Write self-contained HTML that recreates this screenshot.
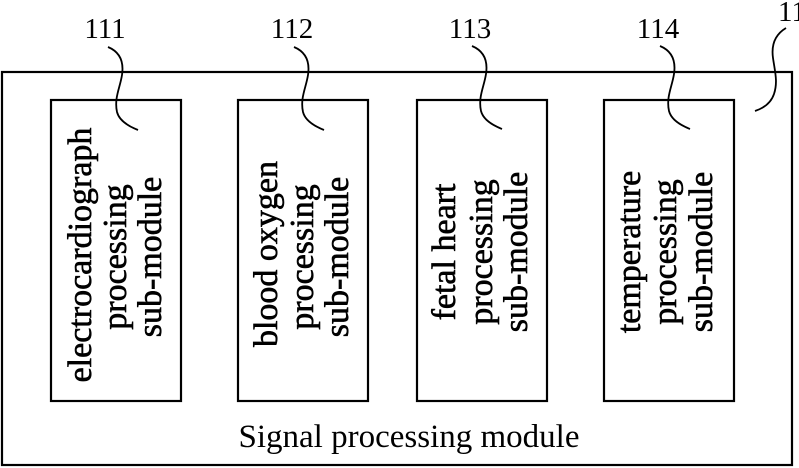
<!DOCTYPE html>
<html><head><meta charset="utf-8"><style>
html,body{margin:0;padding:0;background:#fff;}
svg{display:block;}
text{font-family:"Liberation Serif",serif;fill:#000;}
</style></head><body>
<svg width="799" height="468" viewBox="0 0 799 468" xmlns="http://www.w3.org/2000/svg">
<g fill="none" stroke="#000" stroke-width="2.2">
<rect x="2" y="72" width="790" height="393"/>
<rect x="51" y="100" width="130" height="301"/>
<rect x="238" y="100" width="130" height="301"/>
<rect x="417" y="100" width="130" height="301"/>
<rect x="604" y="100" width="130" height="301"/>
</g>
<g fill="none" stroke="#000" stroke-width="1.8">
<path d="M108,47 C120,52 124,62 122,75 C120,88 114,98 117,112 C119,120 128,126 138,130"/>
<path d="M294,47 C306,52 310,62 308,75 C306,88 300,98 303,112 C305,120 314,126 324,130"/>
<path d="M472,46 C484,51 488,61 486,74 C484,87 478,97 481,111 C483,119 492,125 502,129"/>
<path d="M660,46 C672,51 676,61 674,74 C672,87 666,97 669,111 C671,119 680,125 690,129"/>
<path d="M786,28 C776,34 771,44 773,58 C775,72 778,82 774,94 C771,103 764,108 755,111"/>
</g>
<g font-size="29" text-anchor="middle">
<text x="105" y="38">111</text>
<text x="292" y="38">112</text>
<text x="470" y="38">113</text>
<text x="658" y="38">114</text>
<text x="792" y="21">11</text>
</g>
<g font-size="34" text-anchor="middle" stroke="#000" stroke-width="0.6">
<text transform="translate(91,255) rotate(-90)">electrocardiograph</text>
<text transform="translate(126,257) rotate(-90)">processing</text>
<text transform="translate(161,257) rotate(-90)">sub-module</text>
<text transform="translate(277,254) rotate(-90)">blood oxygen</text>
<text transform="translate(313,257) rotate(-90)">processing</text>
<text transform="translate(348,257) rotate(-90)">sub-module</text>
<text transform="translate(455,252) rotate(-90)">fetal heart</text>
<text transform="translate(492,252) rotate(-90)">processing</text>
<text transform="translate(527,252) rotate(-90)">sub-module</text>
<text transform="translate(640,252) rotate(-90)">temperature</text>
<text transform="translate(676,252) rotate(-90)">processing</text>
<text transform="translate(712,252) rotate(-90)">sub-module</text>
</g>
<text x="409" y="447" font-size="33" text-anchor="middle">Signal processing module</text>
</svg>
</body></html>
